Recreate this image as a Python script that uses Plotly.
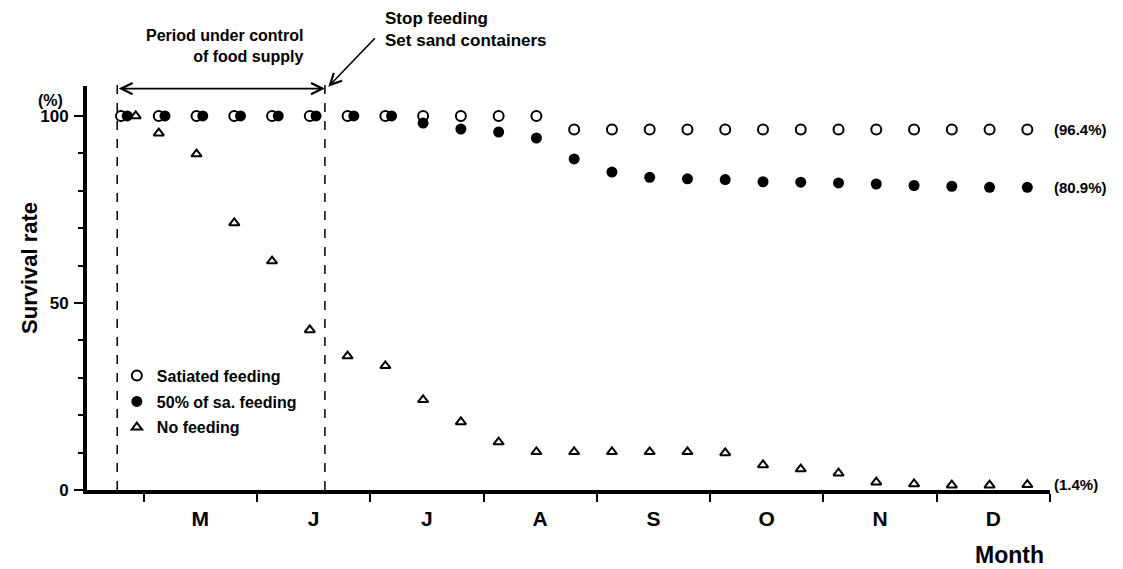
import plotly.graph_objects as go

# Sampling dates (month-day), roughly every 10 days
sample_dates = ["04-25", "05-05", "05-15", "05-25", "06-05", "06-15", "06-25",
                "07-05", "07-15", "07-25", "08-05", "08-15", "08-25", "09-05",
                "09-15", "09-25", "10-05", "10-15", "10-25", "11-05", "11-15",
                "11-25", "12-05", "12-15", "12-25"]

# Survival rate (%) per feeding regime
satiated = [100, 100, 100, 100, 100, 100, 100, 100, 100, 100, 100, 100,
            96.4, 96.4, 96.4, 96.4, 96.4, 96.4, 96.4, 96.4, 96.4, 96.4, 96.4, 96.4, 96.4]
half_fed = [100, 100, 100, 100, 100, 100, 100, 100, 98.1, 96.5, 95.7, 94.1,
            88.5, 85.0, 83.6, 83.2, 83.0, 82.4, 82.3, 82.1, 81.8, 81.4, 81.2, 80.9, 80.9]
no_feeding = [100, 95.4, 89.8, 71.4, 61.2, 42.8, 35.8, 33.2, 24.1, 18.2, 12.8, 10.2,
              10.2, 10.2, 10.2, 10.2, 9.9, 6.7, 5.6, 4.5, 2.1, 1.6, 1.3, 1.3, 1.4]

series_names = ["Satiated feeding", "50% of sa. feeding", "No feeding"]
month_labels = ["M", "J", "J", "A", "S", "O", "N", "D"]

control_start = "04-24"
control_end = "06-19"

X_RANGE = [4.5, 13.0]
Y_RANGE = [0, 108]


def month_pos(md):
    m, d = md.split("-")
    return int(m) + (int(d) - 1) / 30.0


def x_to_paper(xv):
    return (xv - X_RANGE[0]) / (X_RANGE[1] - X_RANGE[0])


x = [month_pos(d) for d in sample_dates]

# nudge coincident markers sideways so each symbol stays visible
x_half = [xi + (0.055 if h == s else 0) for xi, h, s in zip(x, half_fed, satiated)]
x_none = [xi + (0.13 if n == s == h else 0) for xi, n, s, h in zip(x, no_feeding, satiated, half_fed)]

FONT = "Liberation Sans, Arial, sans-serif"
black = "#000000"


def bold(size):
    return dict(family=FONT, size=size, color=black, weight=700)


fig = go.Figure()
fig.add_trace(go.Scatter(
    x=x, y=satiated, mode="markers", name=series_names[0], legendgroup="a",
    marker=dict(symbol="circle-open", size=10, color=black, line=dict(width=2, color=black)),
    cliponaxis=False))
fig.add_trace(go.Scatter(
    x=x_half, y=half_fed, mode="markers", name=series_names[1], legendgroup="b",
    marker=dict(symbol="circle", size=11, color=black),
    cliponaxis=False))
fig.add_trace(go.Scatter(
    x=x_none, y=no_feeding, mode="markers", name=series_names[2], legendgroup="c",
    marker=dict(symbol="triangle-up-open", size=9, color=black, line=dict(width=2, color=black)),
    cliponaxis=False))

xs, xe = month_pos(control_start), month_pos(control_end)

# dashed lines bounding the controlled-feeding period
for xv in (xs, xe):
    fig.add_shape(type="line", xref="paper", yref="paper",
                  x0=x_to_paper(xv), x1=x_to_paper(xv), y0=0, y1=1.022,
                  line=dict(color=black, width=1.5, dash="dash"))

annotations = [
    # double arrow across the control period
    dict(x=xe, y=107.3, ax=xs, ay=107.3, xref="x", yref="y", axref="x", ayref="y",
         text="", showarrow=True, arrowhead=5, arrowside="end+start", arrowsize=1.4,
         arrowwidth=1.6, arrowcolor=black),
    # pointer to the end of feeding
    dict(x=xe + 0.03, y=107.8, xref="x", yref="y", ax=48, ay=-50, text="",
         showarrow=True, arrowhead=5, arrowsize=1.4, arrowwidth=1.6, arrowcolor=black),
    dict(x=0.226, y=1.099, xref="paper", yref="paper", xanchor="right", yanchor="middle",
         align="right", showarrow=False,
         text="Period under control<br>of food supply", font=bold(16)),
    dict(x=0.307, y=1.14, xref="paper", yref="paper", xanchor="left", yanchor="middle",
         align="left", showarrow=False,
         text="Stop feeding<br>Set sand containers", font=bold(17)),
    dict(x=-0.038, y=0.965, xref="paper", yref="paper", xanchor="center", yanchor="middle",
         showarrow=False, text="(%)", font=bold(16)),
    dict(x=-0.059, y=0.55, xref="paper", yref="paper", xanchor="center", yanchor="middle",
         showarrow=False, textangle=-90, text="Survival rate", font=bold(22)),
    dict(x=0.958, y=-0.161, xref="paper", yref="paper", xanchor="center", yanchor="middle",
         showarrow=False, text="Month", font=bold(23)),
]
for val in (satiated[-1], half_fed[-1], no_feeding[-1]):
    annotations.append(dict(x=X_RANGE[1], y=val, xref="x", yref="y", xanchor="left",
                            yanchor="middle", xshift=2, showarrow=False,
                            text=f"({val:.1f}%)", font=bold(15)))

fig.update_layout(
    width=1123, height=569,
    margin=dict(l=87, r=73, t=86, b=79),
    paper_bgcolor="white", plot_bgcolor="white",
    font=dict(family=FONT, color=black),
    showlegend=True,
    legend=dict(x=0.031, y=0.325, xanchor="left", yanchor="top",
                bgcolor="rgba(0,0,0,0)", tracegroupgap=2,
                font=bold(16)),
    annotations=annotations,
    xaxis=dict(
        range=X_RANGE, showgrid=False, zeroline=False,
        showline=True, linecolor=black, linewidth=4,
        tickmode="array", tickvals=[m + 0.5 for m in range(5, 13)], ticktext=month_labels,
        ticks="", ticklabelstandoff=7, tickfont=bold(21),
        minor=dict(tickmode="linear", tick0=5, dtick=1, ticks="outside", ticklen=8,
                   tickwidth=2, tickcolor=black, showgrid=False),
    ),
    yaxis=dict(
        range=Y_RANGE, showgrid=False, zeroline=False,
        showline=True, linecolor=black, linewidth=4,
        tickmode="array", tickvals=[0, 50, 100], ticks="outside", ticklen=9,
        tickwidth=2, tickcolor=black, ticklabelstandoff=2, tickfont=bold(17),
        minor=dict(tickmode="linear", tick0=0, dtick=10, ticks="outside", ticklen=5,
                   tickwidth=2, tickcolor=black, showgrid=False),
    ),
)

fig.write_html("out.html")
